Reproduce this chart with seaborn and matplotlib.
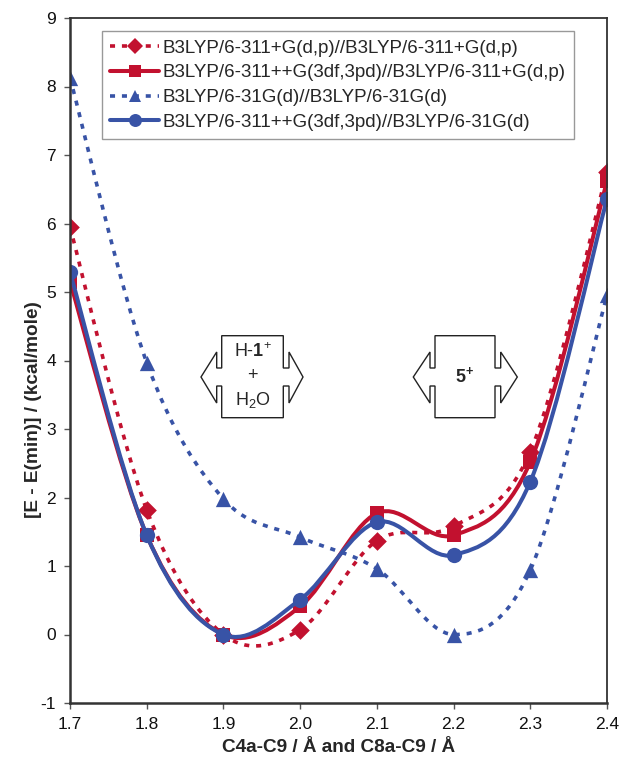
"""
Relative energy vs C4a-C9 / C8a-C9 distance for four levels of theory,
drawn as Excel-style smoothed curves with markers.
"""

import numpy as np
import pandas as pd
import matplotlib.pyplot as plt
import seaborn as sns
from matplotlib.path import Path
from matplotlib.patches import PathPatch, Polygon
from matplotlib.lines import Line2D


distance = [1.7, 1.8, 1.9, 2.0, 2.1, 2.2, 2.3, 2.4]
e_dp_dp = [5.95, 1.82, 0.0, 0.07, 1.37, 1.58, 2.67, 6.75]
e_3df_dp = [5.15, 1.45, 0.0, 0.41, 1.77, 1.45, 2.52, 6.62]
e_31g_31g = [8.13, 3.97, 1.98, 1.42, 0.96, 0.0, 0.94, 4.95]
e_3df_31g = [5.29, 1.45, 0.0, 0.51, 1.64, 1.16, 2.23, 6.36]

series_names = [
    "B3LYP/6-311+G(d,p)//B3LYP/6-311+G(d,p)",
    "B3LYP/6-311++G(3df,3pd)//B3LYP/6-311+G(d,p)",
    "B3LYP/6-31G(d)//B3LYP/6-31G(d)",
    "B3LYP/6-311++G(3df,3pd)//B3LYP/6-31G(d)",
]
series_values = [e_dp_dp, e_3df_dp, e_31g_31g, e_3df_31g]

y_ticks = [-1, 0, 1, 2, 3, 4, 5, 6, 7, 8, 9]

RED = "#C2112F"
BLUE = "#3853A6"
DOTS = (0, (1.4, 1.9))
styles = {
    series_names[0]: dict(color=RED, ls=DOTS, lw=2.6, marker="D", ms=9.5),
    series_names[1]: dict(color=RED, ls="-", lw=2.9, marker="s", ms=10),
    series_names[2]: dict(color=BLUE, ls=DOTS, lw=2.6, marker="^", ms=11),
    series_names[3]: dict(color=BLUE, ls="-", lw=2.9, marker="o", ms=11),
}


def smooth_path(x, y):
    """Cubic Bezier path through the points, Catmull-Rom style (like Excel)."""
    pts = np.column_stack([x, y]).astype(float)
    n = len(pts)
    verts = [pts[0]]
    codes = [Path.MOVETO]
    for i in range(n - 1):
        p0 = pts[i - 1] if i > 0 else pts[i]
        p1, p2 = pts[i], pts[i + 1]
        p3 = pts[i + 2] if i + 2 < n else pts[i + 1]
        verts += [p1 + (p2 - p0) / 6.0, p2 - (p3 - p1) / 6.0, p2]
        codes += [Path.CURVE4] * 3
    return Path(verts, codes)


def px_to_axes(px, py):
    # reference pixel coordinates -> axes fraction
    return ((px - 70.0) / 537.0, (703.0 - py) / 685.0)


def arrow_box(ax, left, right, inner_l, inner_r, tip_l, tip_r):
    top, bot = 335.7, 417.7
    n_top, n_bot = 368.0, 386.0
    d_top, d_bot, tip_y = 352.0, 403.0, 377.0
    pts = [
        (left, top), (right, top), (right, n_top), (inner_r, n_top),
        (inner_r, d_top), (tip_r, tip_y), (inner_r, d_bot), (inner_r, n_bot),
        (right, n_bot), (right, bot), (left, bot), (left, n_bot),
        (inner_l, n_bot), (inner_l, d_bot), (tip_l, tip_y), (inner_l, d_top),
        (inner_l, n_top), (left, n_top),
    ]
    poly = Polygon([px_to_axes(*p) for p in pts], closed=True,
                   transform=ax.transAxes, facecolor="white",
                   edgecolor="#222222", linewidth=1.0, zorder=1)
    ax.add_patch(poly)


sns.set_theme(style="ticks")
plt.rcParams["font.family"] = ["Liberation Sans", "DejaVu Sans"]
plt.rcParams["mathtext.fontset"] = "custom"
plt.rcParams["mathtext.rm"] = "Liberation Sans"
plt.rcParams["mathtext.it"] = "Liberation Sans:italic"
plt.rcParams["mathtext.bf"] = "Liberation Sans:bold"

fig = plt.figure(figsize=(6.23, 7.71), dpi=100)
ax = fig.add_axes([70 / 623, 1 - 703 / 771, 537 / 623, 685 / 771])

# annotation boxes (behind data)
arrow_box(ax, 221.7, 283.3, 216.7, 289.0, 201.0, 303.0)
arrow_box(ax, 435.0, 495.0, 430.0, 500.7, 413.3, 517.3)
tx, _ = px_to_axes(252.5, 0)
ax.text(tx, px_to_axes(0, 352)[1], r"H-$\mathbf{1}^{+}$", transform=ax.transAxes,
        ha="center", va="center", fontsize=13, zorder=1.5)
ax.text(tx, px_to_axes(0, 376)[1], "+", transform=ax.transAxes,
        ha="center", va="center", fontsize=13, zorder=1.5)
ax.text(tx, px_to_axes(0, 400)[1], r"H$_2$O", transform=ax.transAxes,
        ha="center", va="center", fontsize=13, zorder=1.5)
tx2, _ = px_to_axes(465, 0)
ax.text(tx2, px_to_axes(0, 376)[1], r"$\mathbf{5^{+}}$", transform=ax.transAxes,
        ha="center", va="center", fontsize=13, zorder=1.5)

df = pd.DataFrame({
    "distance": np.tile(distance, len(series_names)),
    "energy": np.concatenate(series_values),
    "method": np.repeat(series_names, len(distance)),
})

for k, name in enumerate(series_names):
    st = styles[name]
    sub = df[df["method"] == name]
    ax.add_patch(PathPatch(smooth_path(sub["distance"], sub["energy"]),
                           fill=False, edgecolor=st["color"], linewidth=st["lw"],
                           linestyle=st["ls"], capstyle="butt",
                           zorder=2 + k * 0.1))
    sns.scatterplot(data=sub, x="distance", y="energy", marker=st["marker"],
                    s=st["ms"] ** 2, color=st["color"], edgecolor=st["color"],
                    linewidth=0, ax=ax, zorder=2.05 + k * 0.1, legend=False)

ax.set_xlim(1.7, 2.4)
ax.set_ylim(-1, 9)
ax.set_xticks(distance)
ax.set_xticklabels([f"{d:.1f}" for d in distance])
ax.set_yticks(y_ticks)
ax.set_yticklabels([str(t) for t in y_ticks])

ax.set_xlabel("C4a-C9 / Å and C8a-C9 / Å", fontsize=13.7, fontweight="bold",
              labelpad=5)
ax.set_ylabel("[E - E(min)] / (kcal/mole)", fontsize=13.7, fontweight="bold")
ax.yaxis.set_label_coords(-0.052, 0.429)

for side in ("left", "bottom"):
    ax.spines[side].set_linewidth(1.8)
    ax.spines[side].set_color("#333333")
for side in ("top", "right"):
    ax.spines[side].set_visible(True)
    ax.spines[side].set_linewidth(1.3)
    ax.spines[side].set_color("#333333")

ax.tick_params(axis="both", which="major", direction="out", length=4,
               width=1.0, color="#555555", labelsize=12.5, labelcolor="#111111",
               pad=6)
ax.grid(False)

handles = [
    Line2D([], [], color=styles[n]["color"], linestyle=styles[n]["ls"],
           linewidth=styles[n]["lw"], marker=styles[n]["marker"],
           markersize=styles[n]["ms"] * 0.85, markeredgewidth=0)
    for n in series_names
]
leg = ax.legend(handles, series_names, loc="upper left",
                bbox_to_anchor=px_to_axes(102, 31), borderaxespad=0,
                fontsize=13.5, frameon=True, fancybox=False, framealpha=1,
                edgecolor="#999999", handlelength=2.6, handletextpad=0.2,
                borderpad=0.45, labelspacing=0.41)
leg.get_frame().set_linewidth(1.0)

fig.savefig("out.png", dpi=100)
